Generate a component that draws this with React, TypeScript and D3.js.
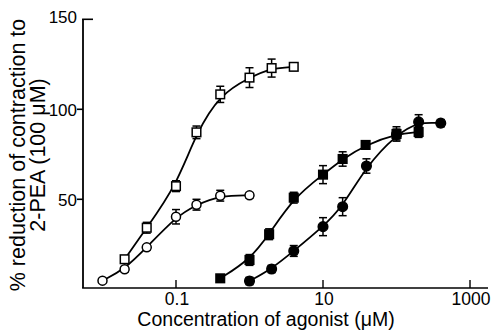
import React from "react";
import * as d3 from "d3";

const openSquareX = [0.02, 0.04, 0.1, 0.19, 0.4, 1, 2, 4];
const openSquareY = [16.7, 34.2, 57.3, 87.2, 108.3, 117.6, 122.9, 123.6];
const openSquareErr = [1.5, 3, 3, 3.5, 4.5, 5.5, 5, 2];

const openCircleX = [0.01, 0.02, 0.04, 0.1, 0.19, 0.4, 1];
const openCircleY = [4.8, 11.1, 23.3, 40.3, 47, 52, 52.2];
const openCircleErr = [1, 1.5, 1.5, 4, 3, 3, 1.5];

const filledSquareX = [0.4, 1, 1.85, 4, 10, 18.5, 38, 100, 200];
const filledSquareY = [6.1, 16.3, 30.6, 50.9, 63.7, 72.4, 80.2, 86.3, 87.4];
const filledSquareErr = [1.5, 3, 3, 3, 5, 4, 2, 4, 3];

const filledCircleX = [1, 2, 4, 10, 18.5, 39, 100, 200, 400];
const filledCircleY = [4.6, 11.3, 21.3, 34.8, 45.9, 68.5, 86, 93, 92.3];
const filledCircleErr = [2, 2, 3, 5, 5, 4, 3, 4, 2];

const xTicks = [0.1, 10, 1000];
const xTickLabels = ["0.1", "10", "1000"];
const yTicks = [50, 100, 150];

const W = 494;
const H = 331;

const x = d3.scaleLog().domain([0.00543, 1757]).range([83, 488]);
const y = d3.scaleLinear().domain([0, 150]).range([289.3, 19.3]);

const FONT = "'Liberation Sans', Arial, Helvetica, sans-serif";

type Series = {
  xs: number[];
  ys: number[];
  errs: number[];
  shape: "circle" | "square";
  filled: boolean;
};

const series: Series[] = [
  { xs: openSquareX, ys: openSquareY, errs: openSquareErr, shape: "square", filled: false },
  { xs: openCircleX, ys: openCircleY, errs: openCircleErr, shape: "circle", filled: false },
  { xs: filledSquareX, ys: filledSquareY, errs: filledSquareErr, shape: "square", filled: true },
  { xs: filledCircleX, ys: filledCircleY, errs: filledCircleErr, shape: "circle", filled: true },
];

const line = d3
  .line<[number, number]>()
  .x((d) => x(d[0]))
  .y((d) => y(d[1]))
  .curve(d3.curveBasis);

export default function App() {
  const axisY = 288;
  return (
    <svg width={W} height={H} style={{ position: "absolute", left: 0, top: 0, background: "#fff" }}>
      <rect x={0} y={0} width={W} height={H} fill="#fff" />
      {/* axes */}
      <line x1={83} y1={19} x2={83} y2={axisY} stroke="#000" strokeWidth={1.8} />
      <line x1={82.1} y1={axisY} x2={488} y2={axisY} stroke="#000" strokeWidth={1.6} />
      {yTicks.map((t) =>
        t === 150 ? (
          <line key={t} x1={82.1} x2={93} y1={y(t)} y2={y(t)} stroke="#000" strokeWidth={1.6} />
        ) : (
          <line key={t} x1={77} x2={83} y1={y(t)} y2={y(t)} stroke="#000" strokeWidth={1.6} />
        )
      )}
      {yTicks.map((t) => (
        <text
          key={"l" + t}
          x={77}
          y={y(t) + (t === 150 ? -2 : 1)}
          dy="0.35em"
          textAnchor="end"
          fontFamily={FONT}
          fontSize={17}
        >
          {t}
        </text>
      ))}
      {xTicks.map((t) => (
        <line key={t} x1={x(t)} x2={x(t)} y1={280} y2={axisY} stroke="#000" strokeWidth={1.4} />
      ))}
      {xTicks.map((t, i) => (
        <text key={"xl" + t} x={x(t) + 1} y={305} textAnchor="middle" fontFamily={FONT} fontSize={17.5}>
          {xTickLabels[i]}
        </text>
      ))}
      <text x={266} y={326} textAnchor="middle" fontFamily={FONT} fontSize={19.5}>
        Concentration of agonist (μM)
      </text>
      <g transform="translate(25,155) rotate(-90)">
        <text x={0} y={0} textAnchor="middle" fontFamily={FONT} fontSize={21.5}>
          % reduction of contraction to
        </text>
        <text x={0} y={19.5} textAnchor="middle" fontFamily={FONT} fontSize={21.5}>
          2-PEA (100 μM)
        </text>
      </g>
      {/* curves */}
      {series.map((s, i) => (
        <path
          key={"c" + i}
          d={line(s.xs.map((v, j) => [v, s.ys[j]] as [number, number])) || ""}
          fill="none"
          stroke="#000"
          strokeWidth={1.8}
        />
      ))}
      {/* error bars and markers */}
      {series.map((s, i) => (
        <g key={"m" + i}>
          {s.xs.map((v, j) => {
            const cx = x(v);
            const cy = y(s.ys[j]);
            const top = y(s.ys[j] + s.errs[j]);
            const bot = y(s.ys[j] - s.errs[j]);
            return (
              <g key={j}>
                <line x1={cx} x2={cx} y1={top} y2={bot} stroke="#000" strokeWidth={1.5} />
                <line x1={cx - 4} x2={cx + 4} y1={top} y2={top} stroke="#000" strokeWidth={1.5} />
                <line x1={cx - 4} x2={cx + 4} y1={bot} y2={bot} stroke="#000" strokeWidth={1.5} />
                {s.shape === "circle" ? (
                  <circle
                    cx={cx}
                    cy={cy}
                    r={s.filled ? 4.8 : 4.5}
                    fill={s.filled ? "#000" : "#fff"}
                    stroke="#000"
                    strokeWidth={1.5}
                  />
                ) : (
                  <rect
                    x={cx - 4.3}
                    y={cy - 4.3}
                    width={8.6}
                    height={8.6}
                    fill={s.filled ? "#000" : "#fff"}
                    stroke="#000"
                    strokeWidth={1.5}
                  />
                )}
              </g>
            );
          })}
        </g>
      ))}
    </svg>
  );
}
